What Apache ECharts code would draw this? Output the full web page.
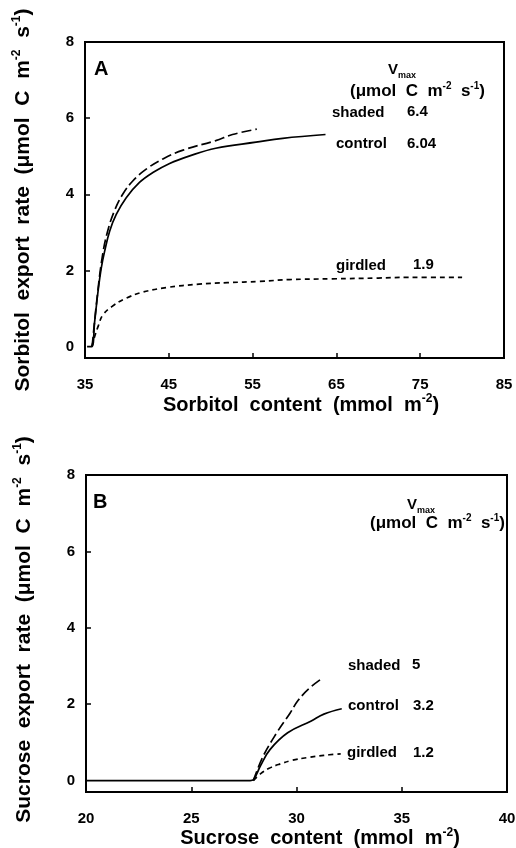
<!DOCTYPE html>
<html><head><meta charset="utf-8">
<script src="https://cdn.jsdelivr.net/npm/echarts@6/dist/echarts.min.js"></script>
<style>html,body{margin:0;padding:0;background:#fff}#c{width:516px;height:848px}</style>
</head><body><div id="c"></div>
<script>
const FONT = '"Liberation Sans", Arial, Helvetica, sans-serif';

// ---- Panel A: sorbitol ----
const sorbitolLabelTicks = [35, 45, 55, 65, 75, 85];
const sorbitolInnerTicks = [45, 55, 65, 75];
const rateLabelTicks = [0, 2, 4, 6, 8];
const rateInnerTicks = [2, 4, 6];

const sorbitolControl = [[35.25,0],[35.8,0],[36.15,0.65],[36.55,1.44],[36.94,2.06],[37.34,2.5],[37.94,3.03],[38.73,3.47],[39.92,3.91],[41.5,4.31],[43.1,4.57],[45.1,4.81],[47.5,5.01],[50.6,5.21],[55.4,5.37],[58.6,5.47],[63.7,5.57]];
const sorbitolShaded = [[35.85,0],[36.5,1.4],[37.1,2.41],[37.7,3.03],[38.5,3.56],[39.5,4.0],[40.7,4.35],[42.3,4.66],[44.3,4.93],[46.7,5.16],[50.6,5.41],[52.6,5.57],[55.5,5.71]];
const sorbitolGirdled = [[35.8,0],[36.2,0.3],[36.6,0.55],[37.1,0.82],[38.2,1.05],[39.9,1.27],[41.9,1.43],[44.7,1.55],[48.6,1.64],[52,1.68],[55.8,1.71],[59.4,1.76],[64.5,1.78],[70,1.8],[73.7,1.82],[80,1.82]];

// ---- Panel B: sucrose ----
const sucroseLabelTicks = [20, 25, 30, 35, 40];
const sucroseInnerTicks = [25, 30, 35];

const sucroseControl = [[20,0],[27.8,0],[27.95,0.02],[28.3,0.4],[28.74,0.81],[29.58,1.25],[30.7,1.56],[31.3,1.74],[32.15,1.88]];
const sucroseShaded = [[27.95,0],[28.41,0.63],[29.06,1.25],[29.7,1.77],[30.08,2.1],[30.64,2.43],[31.26,2.69]];
const sucroseGirdled = [[27.95,0],[28.3,0.18],[28.7,0.32],[29.2,0.43],[29.8,0.53],[30.5,0.6],[31.3,0.66],[32.1,0.7]];

// ---- Annotations ----
const vmaxA = [['shaded','6.4'],['control','6.04'],['girdled','1.9']];
const vmaxB = [['shaded','5'],['control','3.2'],['girdled','1.2']];

const supRich = { s: { fontSize: 12, fontWeight: 'bold', fontFamily: FONT, color: '#000', verticalAlign: 'top', lineHeight: 12 } };
const nameStyle = (size, pad) => ({ fontSize: size, fontWeight: 'bold', fontFamily: FONT, color: '#000', lineHeight: 24, rich: supRich, padding: pad || 0 });
const labelStyle = { fontSize: 15, fontWeight: 'bold', fontFamily: FONT, color: '#000' };

function xAxisCfg(grid, min, max, labels, inner, name, pad, margin, gap) {
  return {
    gridIndex: grid, type: 'value', min: min, max: max,
    axisLine: { show: true, onZero: false, lineStyle: { color: '#000', width: 2 } },
    splitLine: { show: false },
    axisTick: { show: true, inside: true, length: 5, lineStyle: { color: '#000', width: 1.5 }, customValues: inner },
    axisLabel: Object.assign({ customValues: labels, margin: margin }, labelStyle),
    name: name, nameLocation: 'middle', nameGap: gap,
    nameTextStyle: nameStyle(20, [0, 0, 0, pad])
  };
}
function yAxisCfg(grid, name, pad) {
  return {
    gridIndex: grid, type: 'value', min: -0.3, max: 8,
    axisLine: { show: true, onZero: false, lineStyle: { color: '#000', width: 2 } },
    splitLine: { show: false },
    axisTick: { show: true, inside: true, length: 5, lineStyle: { color: '#000', width: 1.5 }, customValues: rateInnerTicks },
    axisLabel: Object.assign({ customValues: rateLabelTicks, margin: 11 }, labelStyle),
    name: name, nameLocation: 'middle', nameGap: 50, nameRotate: 90,
    nameTextStyle: nameStyle(21, pad)
  };
}
function line(data, xi, type) {
  return {
    type: 'line', xAxisIndex: xi, yAxisIndex: xi, data: data, showSymbol: false,
    smooth: 0.4, silent: true,
    lineStyle: { color: '#000', width: 1.7, type: type }
  };
}
function txt(x, y, text, size) {
  return { type: 'text', x: x, y: y, silent: true,
    style: { text: text, fontSize: size || 15, fontWeight: 'bold', fontFamily: FONT, fill: '#000', align: 'left', verticalAlign: 'middle',
      rich: {
        s: { fontSize: 10, fontWeight: 'bold', fontFamily: FONT, fill: '#000', verticalAlign: 'top', lineHeight: 10 },
        m: { fontSize: 9, fontWeight: 'bold', fontFamily: FONT, fill: '#000', verticalAlign: 'bottom', lineHeight: 8 },
        n: { fontSize: 15, fontWeight: 'bold', fontFamily: FONT, fill: '#000', lineHeight: 20 },
        p: { fontSize: 17, fontWeight: 'bold', fontFamily: FONT, fill: '#000', lineHeight: 20 }
      } } };
}
const unitText = '{p|(μmol  C  m}{s|-2}{p|  s}{s|-1}{p|)}';

const graphics = [
  txt(94, 69, 'A', 20),
  txt(388, 70, '{n|V}{m|max}'),
  txt(350, 91, unitText),
  txt(332, 113, vmaxA[0][0]), txt(407, 112, vmaxA[0][1]),
  txt(336, 144, vmaxA[1][0]), txt(407, 144, vmaxA[1][1]),
  txt(336, 266, vmaxA[2][0]), txt(413, 265, vmaxA[2][1]),
  txt(93, 502, 'B', 20),
  txt(407, 505, '{n|V}{m|max}'),
  txt(370, 523, unitText),
  txt(348, 666, vmaxB[0][0]), txt(412, 665, vmaxB[0][1]),
  txt(348, 706, vmaxB[1][0]), txt(413, 706, vmaxB[1][1]),
  txt(347, 753, vmaxB[2][0]), txt(413, 753, vmaxB[2][1])
];

const chart = echarts.init(document.getElementById('c'), null, { renderer: 'canvas' });
chart.setOption({
  backgroundColor: '#fff',
  animation: false,
  grid: [
    { left: 85, top: 42, width: 419, height: 316, show: true, borderColor: '#000', borderWidth: 2, backgroundColor: 'transparent', containLabel: false, outerBoundsMode: 'none' },
    { left: 86, top: 475, width: 421, height: 317, show: true, borderColor: '#000', borderWidth: 2, backgroundColor: 'transparent', containLabel: false, outerBoundsMode: 'none' }
  ],
  xAxis: [
    xAxisCfg(0, 35, 85, sorbitolLabelTicks, sorbitolInnerTicks, 'Sorbitol  content  (mmol  m{s|-2})', 13, 19, 35),
    xAxisCfg(1, 20, 40, sucroseLabelTicks, sucroseInnerTicks, 'Sucrose  content  (mmol  m{s|-2})', 47, 19, 30)
  ],
  yAxis: [
    yAxisCfg(0, 'Sorbitol  export  rate  (μmol  C  m{s|-2}  s{s|-1})', 0),
    yAxisCfg(1, 'Sucrose  export  rate  (μmol  C  m{s|-2}  s{s|-1})', [0, 0, 0, 8])
  ],
  series: [
    line(sorbitolControl, 0, 'solid'),
    line(sorbitolShaded, 0, [10, 4]),
    line(sorbitolGirdled, 0, [5, 4]),
    line(sucroseControl, 1, 'solid'),
    line(sucroseShaded, 1, [10, 4]),
    line(sucroseGirdled, 1, [5, 4])
  ],
  graphic: graphics
});
</script></body></html>
